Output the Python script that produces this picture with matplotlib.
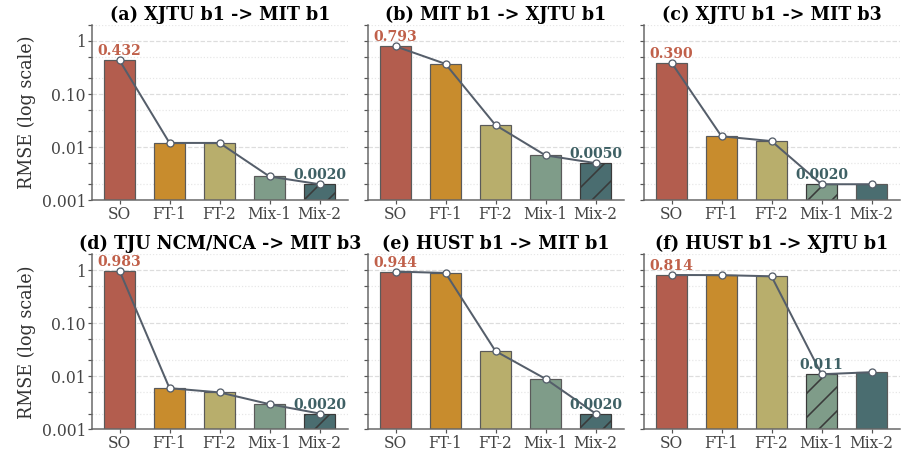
import numpy as np
import matplotlib
matplotlib.use("Agg")
import matplotlib.pyplot as plt
from matplotlib.ticker import FixedLocator, FixedFormatter, NullFormatter

# === data ===
methods = ["SO", "FT-1", "FT-2", "Mix-1", "Mix-2"]
titles = [
    "(a) XJTU b1 -> MIT b1",
    "(b) MIT b1 -> XJTU b1",
    "(c) XJTU b1 -> MIT b3",
    "(d) TJU NCM/NCA -> MIT b3",
    "(e) HUST b1 -> MIT b1",
    "(f) HUST b1 -> XJTU b1",
]
rmse_a = [0.432, 0.012, 0.012, 0.0028, 0.0020]
rmse_b = [0.793, 0.37, 0.026, 0.0070, 0.0050]
rmse_c = [0.390, 0.016, 0.013, 0.0020, 0.0020]
rmse_d = [0.983, 0.0060, 0.0050, 0.0030, 0.0020]
rmse_e = [0.944, 0.89, 0.030, 0.0090, 0.0020]
rmse_f = [0.814, 0.81, 0.77, 0.011, 0.012]
all_rmse = [rmse_a, rmse_b, rmse_c, rmse_d, rmse_e, rmse_f]
so_labels = ["0.432", "0.793", "0.390", "0.983", "0.944", "0.814"]
best_labels = ["0.0020", "0.0050", "0.0020", "0.0020", "0.0020", "0.011"]

bar_colors = ["#b35d4e", "#c88c2d", "#b8ae6c", "#7f9c89", "#4a6d70"]
so_color = "#c0604a"
best_color = "#3e6064"
line_color = "#555e6a"

plt.rcParams["font.family"] = "DejaVu Serif"
plt.rcParams["hatch.linewidth"] = 1.6

# dpi 72 -> 1pt == 1px
fig, axes = plt.subplots(2, 3, figsize=(902 / 72, 457 / 72), dpi=72, sharey=True)
fig.subplots_adjust(left=92 / 902, right=900 / 902, top=1 - 25 / 457,
                    bottom=1 - 429.5 / 457, wspace=20 / 256, hspace=54 / 175)

x = np.arange(len(methods))
for i, ax in enumerate(axes.flat):
    vals = all_rmse[i]
    best = int(np.argmin(vals))
    bars = ax.bar(x, vals, width=0.62, color=bar_colors, edgecolor="#5a5a5a",
                  linewidth=1.2, zorder=2)
    bars[best].set_hatch("/")
    bars[best].set_edgecolor("#3a3a3a")
    ax.plot(x, vals, color=line_color, linewidth=2, marker="o", markersize=7,
            markerfacecolor="white", markeredgecolor=line_color,
            markeredgewidth=1.3, zorder=3)

    ax.annotate(so_labels[i], (x[0], vals[0]), xytext=(0, 2), textcoords="offset points",
                ha="center", va="bottom", fontsize=14, fontweight="bold", color=so_color,
                zorder=4)
    ax.annotate(best_labels[i], (x[best], vals[best]), xytext=(0, 2),
                textcoords="offset points", ha="center", va="bottom", fontsize=14,
                fontweight="bold", color=best_color, zorder=4)

    ax.set_yscale("log")
    ax.set_ylim(1e-3, 2)
    ax.set_xlim(-0.55, 4.57)
    ax.yaxis.set_major_locator(FixedLocator([1e-3, 1e-2, 1e-1, 1]))
    ax.yaxis.set_major_formatter(FixedFormatter(["0.001", "0.01", "0.10", "1"]))
    ax.yaxis.set_minor_locator(FixedLocator([2e-3, 5e-3, 2e-2, 5e-2, 0.2, 0.5, 2]))
    ax.yaxis.set_minor_formatter(NullFormatter())
    ax.grid(True, which="major", axis="y", linestyle="--", color="#dddddd", linewidth=1.2, zorder=0)
    ax.grid(True, which="minor", axis="y", linestyle=":", color="#e6e6e6", linewidth=1.2, zorder=0)
    ax.set_axisbelow(True)

    ax.set_xticks(x)
    ax.set_xticklabels(methods)
    ax.tick_params(axis="both", which="both", labelsize=15.5, colors="#555555",
                   labelcolor="#444444", length=4, width=1.2, pad=2)
    for side in ["top", "right"]:
        ax.spines[side].set_visible(False)
    for side in ["left", "bottom"]:
        ax.spines[side].set_color("#666666")
        ax.spines[side].set_linewidth(1.5)

    ax.set_title(titles[i], fontsize=17.5, fontweight="bold", pad=5)
    if i % 3 == 0:
        ax.set_ylabel("RMSE (log scale)", fontsize=17.5, color="#333333", labelpad=6)
        ax.tick_params(axis="y", labelleft=True)

fig.savefig("out.png", dpi=72)
